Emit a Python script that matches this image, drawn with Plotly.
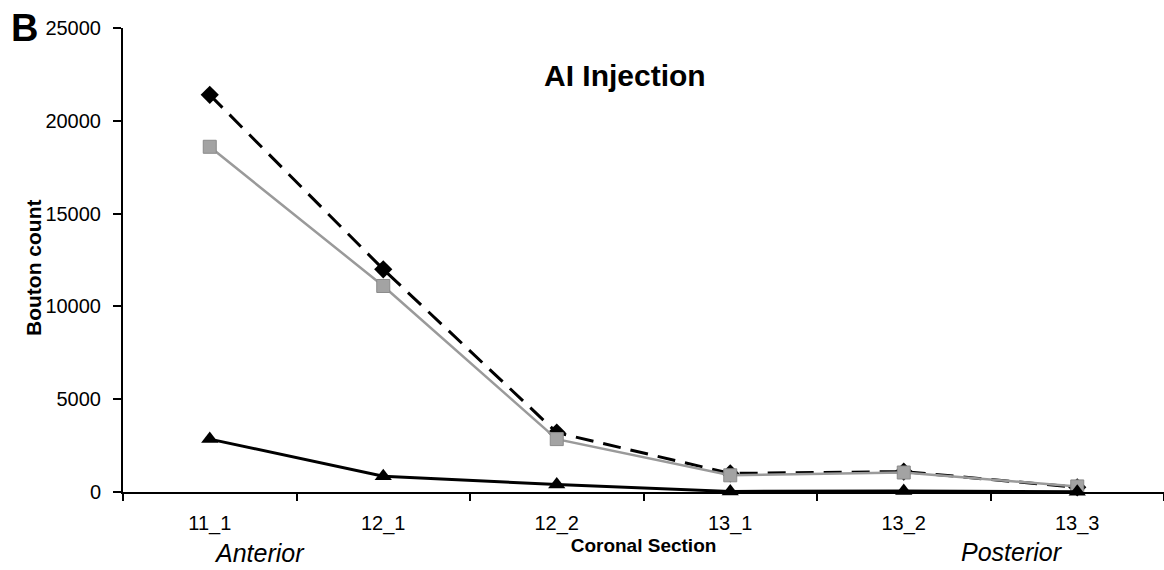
import plotly.graph_objects as go

sections = ["11_1", "12_1", "12_2", "13_1", "13_2", "13_3"]
total = [21400, 12000, 3200, 1000, 1100, 250]
gray_series = [18600, 11100, 2850, 900, 1050, 300]
black_series = [2850, 850, 400, 30, 50, 20]
y_ticks = [0, 5000, 10000, 15000, 20000, 25000]

FONT = "Liberation Sans, Arial, sans-serif"

fig = go.Figure()
fig.add_trace(go.Scatter(
    x=sections, y=total, mode="lines+markers", cliponaxis=False,
    line=dict(color="black", width=3, dash="18px,10px"),
    marker=dict(symbol="diamond", size=14, color="black"),
))
fig.add_trace(go.Scatter(
    x=sections, y=gray_series, mode="lines+markers", cliponaxis=False,
    line=dict(color="#9a9a9a", width=2.5),
    marker=dict(symbol="square", size=13, color="#a3a3a3",
                line=dict(color="#8a8a8a", width=1)),
))
fig.add_trace(go.Scatter(
    x=sections, y=black_series, mode="lines+markers", cliponaxis=False,
    line=dict(color="black", width=3),
    marker=dict(symbol="triangle-up", size=15, color="black"),
))

W, H = 1164, 570
l, r, t, b = 123, 0, 28, 78

fig.update_layout(
    width=W, height=H,
    margin=dict(l=l, r=r, t=t, b=b),
    paper_bgcolor="white", plot_bgcolor="white",
    showlegend=False,
    font=dict(family=FONT, color="black"),
    xaxis=dict(
        type="category", range=[-0.5, 5.5],
        showline=True, linecolor="black", linewidth=2,
        ticks="outside", ticklen=7, tickwidth=1.5, tickcolor="black",
        tickson="boundaries", showgrid=False, zeroline=False,
        tickfont=dict(size=20, family=FONT),
        ticklabelstandoff=12,
        title=dict(text="<b>Coronal Section</b>", font=dict(size=19, family=FONT), standoff=4),
    ),
    yaxis=dict(
        range=[0, 25000], tickvals=y_ticks, tickformat="d",
        showline=True, linecolor="black", linewidth=2,
        ticks="outside", ticklen=8, tickwidth=1.5, tickcolor="black",
        showgrid=False, zeroline=False,
        tickfont=dict(size=20, family=FONT),
        ticklabelstandoff=8,
    ),
)

pw, ph = W - l - r, H - t - b
def px(xp):
    return (xp - l) / pw
def py(yp):
    return (H - b - yp) / ph

labels = [
    ("<b>AI Injection</b>", 625, 75, 30, 0),
    ("<b>B</b>", 24, 28, 38, 0),
    ("<b>Bouton count</b>", 33, 268, 21, -90),
    ("<i>Anterior</i>", 259, 553, 25, 0),
    ("<i>Posterior</i>", 1012, 552, 25, 0),
]
for text, xp, yp, size, ang in labels:
    fig.add_annotation(text=text, xref="paper", yref="paper", x=px(xp), y=py(yp),
                       xanchor="center", yanchor="middle", showarrow=False,
                       textangle=ang, font=dict(size=size, family=FONT))

fig.write_html("out.html", config={"displayModeBar": False},
               post_script="document.body.style.margin='0';document.body.style.overflow='hidden';")
